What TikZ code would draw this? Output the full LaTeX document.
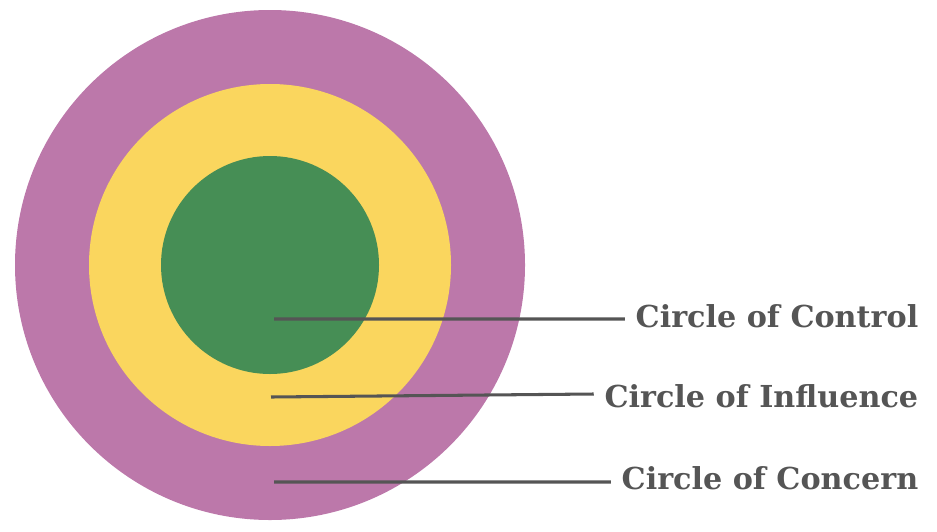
\documentclass[tikz,border=0pt]{standalone}
\usepackage{fontspec}
\setmainfont{DejaVu Serif}
\usepackage{xcolor}
\usetikzlibrary{positioning}

\definecolor{concern}{HTML}{BC78AA}
\definecolor{influence}{HTML}{FAD65E}
\definecolor{control}{HTML}{468E55}
\definecolor{pointer}{HTML}{555555}

\tikzset{
  ring/.style={circle, draw=none, inner sep=0pt},
  lbl/.style={anchor=east, text=pointer, inner sep=9pt,
    font=\fontsize{25.8}{30}\selectfont\bfseries},
  pointer/.style={draw=pointer, line width=2.6pt}
}

\begin{document}
\begin{tikzpicture}[x=0.03cm, y=-0.03cm]
        \useasboundingbox (0,0) rectangle (937,531);

        \node[ring, fill=concern, minimum size=510*0.03cm] (concern) at (270,265) {};
        \node[ring, fill=influence, minimum size=362*0.03cm] (influence) at (270,265) {};
        \node[ring, fill=control, minimum size=218*0.03cm] (control) at (270,265) {};

        \coordinate (pctrl) at (274,319);
        \coordinate (pinfl) at (271,397);
        \coordinate (pconc) at (274,482);

        \node[lbl] (lctrl) at (929,316) {Circle of Control};
        \node[lbl] (linfl) at (929,396) {Circle of Influence};
        \node[lbl] (lconc) at (929,478) {Circle of Concern};

        \draw[pointer] (pctrl) -- (pctrl -| lctrl.west)
            (pinfl) -- (linfl.west |- 0,394)
            (pconc) -- (pconc -| lconc.west);
    \end{tikzpicture}
\end{document}
